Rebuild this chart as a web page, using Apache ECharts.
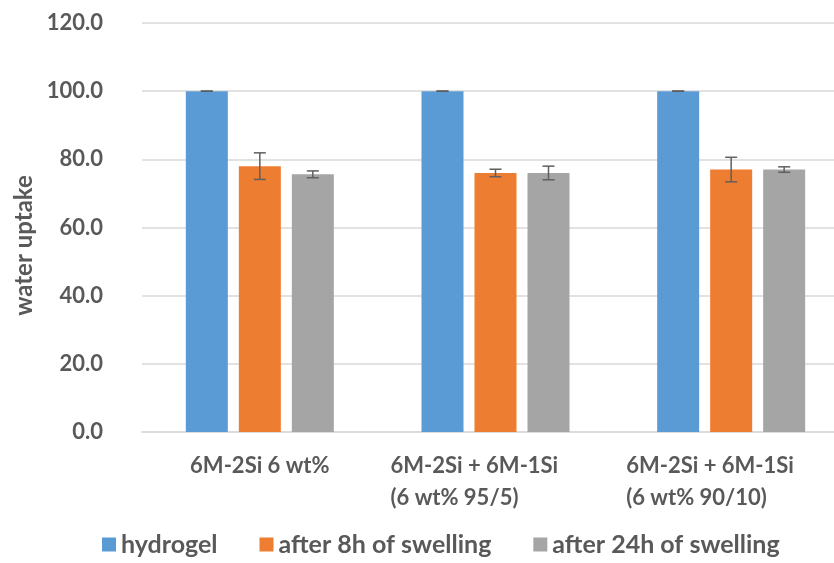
<!DOCTYPE html>
<html><head><meta charset="utf-8">
<script src="https://cdn.jsdelivr.net/npm/echarts@6/dist/echarts.min.js"></script>
<style>html,body{margin:0;padding:0;background:#fff;overflow:hidden}#c{width:849px;height:563px}</style>
</head><body><div id="c"></div>
<script>
const categories = ['6M-2Si 6 wt%', '6M-2Si + 6M-1Si\n(6 wt% 95/5)', '6M-2Si + 6M-1Si\n(6 wt% 90/10)'];
const seriesNames = ['hydrogel', 'after 8h of swelling', 'after 24h of swelling'];
const hydrogel = [100.0, 100.0, 100.0];
const after8h = [78.0, 76.0, 77.0];
const after24h = [75.6, 76.0, 77.0];
const err8h = [3.9, 1.1, 3.6];
const err24h = [1.0, 2.0, 0.8];
const errHydrogel = [0, 0, 0];
const yTicks = { min: 0, max: 120, interval: 20 };

const colors = ['#5B9BD5', '#ED7D31', '#A5A5A5'];
const values = [hydrogel, after8h, after24h];
const errs = [errHydrogel, err8h, err24h];
const FONT = 'Lato, "Open Sans", sans-serif';
const TXT = '#595959';
const BW = 42, GAP = 11;

const chart = echarts.init(document.getElementById('c'));
const barSeries = values.map((v, i) => ({
  name: seriesNames[i], type: 'bar', data: v, barWidth: BW, barGap: (GAP / BW * 100) + '%',
  itemStyle: { color: colors[i] }
}));
const errSeries = values.map((v, si) => ({
  type: 'custom', name: seriesNames[si] + ' err', z: 10,
  data: v.map((val, ci) => [ci, val, errs[si][ci]]),
  renderItem: function (params, api) {
    const ci = api.value(0), val = api.value(1), e = api.value(2);
    const off = (si - 1) * (BW + GAP);
    const hi = api.coord([ci, val + e]);
    const lo = api.coord([ci, val - e]);
    const x = hi[0] + off, cap = 6;
    const st = { stroke: '#5f5f5f', lineWidth: 1.5 };
    return { type: 'group', children: [
      { type: 'line', shape: { x1: x, y1: hi[1], x2: x, y2: lo[1] }, style: st },
      { type: 'line', shape: { x1: x - cap, y1: hi[1], x2: x + cap, y2: hi[1] }, style: st },
      { type: 'line', shape: { x1: x - cap, y1: lo[1], x2: x + cap, y2: lo[1] }, style: st }
    ]};
  }
}));

const labelText = { fontFamily: FONT, fontSize: 22, fontWeight: 'bold', color: TXT, lineHeight: 32 };
chart.setOption({
  animation: false,
  grid: { left: 142, right: 0, top: 23, bottom: 131 },
  legend: {
    data: seriesNames, left: 97, bottom: 1, icon: 'rect', itemWidth: 14, itemHeight: 14, itemGap: 42,
    textStyle: { fontFamily: FONT, fontSize: 25, fontWeight: 'bold', color: TXT }
  },
  xAxis: {
    type: 'category', data: categories,
    axisLine: { lineStyle: { color: '#d9d9d9', width: 1.5 } },
    axisTick: { show: false },
    axisLabel: Object.assign({
      margin: 18, interval: 0,
      formatter: function (v) {
        const parts = v.split('\n');
        if (parts.length === 1) return '{b|' + v + '}';
        return parts.map(s => '{a|' + s + '}').join('\n');
      },
      rich: { a: Object.assign({ width: 210, align: 'left' }, labelText), b: Object.assign({}, labelText) }
    }, labelText)
  },
  yAxis: {
    type: 'value', min: yTicks.min, max: yTicks.max, interval: yTicks.interval,
    name: 'water uptake', nameLocation: 'middle', nameGap: 102, nameRotate: 90,
    nameTextStyle: { fontFamily: FONT, fontSize: 24, fontWeight: 'bold', color: TXT, padding: [0, 36, 0, 0] },
    axisLine: { show: false }, axisTick: { show: false },
    axisLabel: { margin: 39, fontFamily: FONT, fontSize: 22, fontWeight: 'bold', color: TXT,
      formatter: v => v.toFixed(1) },
    splitLine: { lineStyle: { color: '#d9d9d9', width: 1.5 } }
  },
  series: barSeries.concat(errSeries)
});
</script></body></html>
